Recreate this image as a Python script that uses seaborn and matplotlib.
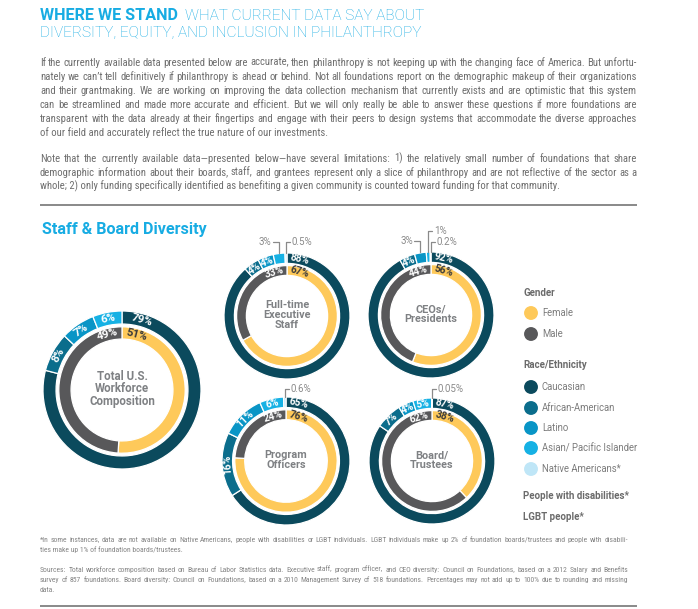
"""
Recria o infográfico "Where we stand" (diversidade em filantropia):
texto introdutório, cinco anéis de composição por raça/gênero e legenda.
"""
import matplotlib
matplotlib.use("Agg")
import matplotlib.pyplot as plt
import numpy as np
import pandas as pd
import seaborn as sns
from matplotlib import font_manager
from matplotlib.font_manager import FontProperties

W, H = 698, 609
PX = 100 / 72  # pixels por ponto (dpi = 100)

# --------------------------------------------------------------------------- #
# Dados / textos
# --------------------------------------------------------------------------- #
TITLE_BOLD = "WHERE WE STAND"
TITLE_REST = "WHAT CURRENT DATA SAY ABOUT"
TITLE_LINE2 = "DIVERSITY, EQUITY, AND INCLUSION IN PHILANTHROPY"
SECTION_TITLE = "Staff & Board Diversity"

PARA1 = [
    "If the currently available data presented below are accurate, then philanthropy is not keeping up with the changing face of America. But unfortu-",
    "nately we can’t tell definitively if philanthropy is ahead or behind. Not all foundations report on the demographic makeup of their organizations",
    "and their grantmaking. We are working on improving the data collection mechanism that currently exists and are optimistic that this system",
    "can be streamlined and made more accurate and efficient. But we will only really be able to answer these questions if more foundations are",
    "transparent with the data already at their fingertips and engage with their peers to design systems that accommodate the diverse approaches",
    "of our field and accurately reflect the true nature of our investments.",
]
PARA2 = [
    "Note that the currently available data—presented below—have several limitations: 1) the relatively small number of foundations that share",
    "demographic information about their boards, staff, and grantees represent only a slice of philanthropy and are not reflective of the sector as a",
    "whole; 2) only funding specifically identified as benefiting a given community is counted toward funding for that community.",
]
FOOTNOTE = [
    "*In some instances, data are not available on Native Americans, people with disabilities or LGBT individuals. LGBT individuals make up 2% of foundation boards/trustees and people with disabili-",
    "ties make up 1% of foundation boards/trustees.",
]
SOURCES = [
    "Sources: Total workforce composition based on Bureau of Labor Statistics data. Executive staff, program officer, and CEO diversity: Council on Foundations, based on a 2012 Salary and Benefits",
    "survey of 857 foundations. Board diversity: Council on Foundations, based on a 2010 Management Survey of 518 foundations. Percentages may not add up to 100% due to rounding and missing",
    "data.",
]

GROUPS = ["Total U.S.\nWorkforce\nComposition", "Full-time\nExecutive\nStaff",
          "CEOs/\nPresidents", "Program\nOfficers", "Board/\nTrustees"]
RACES = ["Caucasian", "African-American", "Latino", "Asian/ Pacific Islander", "Native Americans*"]
caucasian = [79, 88, 92, 65, 87]
african_american = [8, 4, 4, 16, 7]
latino = [7, 4, 3, 11, 4]
asian = [6, 3, 1, 6, 5]
native_american = [0, 0.5, 0.2, 0.6, 0.05]
GENDERS = ["Female", "Male"]
female = [51, 67, 56, 76, 38]
male = [49, 33, 44, 24, 62]
OTHER_GROUPS = ["People with disabilities*", "LGBT people*"]

# --------------------------------------------------------------------------- #
# Estilo e layout
# --------------------------------------------------------------------------- #
RACE_COLORS = ["#0b4a5d", "#0b6d8c", "#0995c6", "#16b1e4", "#bfe6f7"]
GENDER_COLORS = ["#fec95a", "#58585a"]
CYAN = "#17ace3"
GRAY = "#6e6e6e"
LEG_GRAY = "#7c7c7c"
HEAD_GRAY = "#6b6b6b"
CENTER_GRAY = "#7f8184"
BRACKET_GRAY = "#8a8a8a"

# (cx, cy, raio externo, fonte dos rótulos, fonte do centro, folga do 1º rótulo externo)
DONUT_LAYOUT = [
    (122, 390, 79, 8.2, 8.3, 9.5),
    (287, 316, 63, 7.4, 7.8, 3.0),
    (431, 315, 63, 7.4, 7.8, 3.0),
    (286, 461, 64, 7.4, 7.8, 3.0),
    (432, 461, 63, 7.4, 7.8, 3.0),
]
# (anel, grupo racial) -> (lado do rótulo, y do rótulo) para fatias muito finas
BRACKET_POS = {
    (1, 3): ("left", 242), (1, 4): ("right", 242),
    (2, 2): ("left", 241), (2, 3): ("right", 231), (2, 4): ("right", 242),
    (3, 4): ("right", 389),
    (4, 4): ("right", 389),
}
SMALL_SLICE = 3.5  # abaixo disso o rótulo vai para fora do anel

P1_Y = [62, 76, 90, 104, 118, 132]
P2_Y = [158, 172, 186]
FOOT_Y = [539, 549]
SRC_Y = [569, 579, 589]

LEG_DOT_X, LEG_TEXT_X, LEG_HEAD_X = 531, 542, 523
LEG_DOT_Y = [313, 334, 387, 408, 428, 448, 469]
LEG_HEAD_Y = {"Gender": 293, "Race/Ethnicity": 365,
              OTHER_GROUPS[0]: 496, OTHER_GROUPS[1]: 517}

sns.set_theme(style="white")
_names = {f.name for f in font_manager.fontManager.ttflist}


def pick(*cands):
    for c in cands:
        if c in _names:
            return c
    return "DejaVu Sans"


SANS = pick("Roboto", "Open Sans", "Lato", "Noto Sans")
BODY = pick("Liberation Sans Narrow", "Roboto Condensed", "Roboto", "Open Sans")
plt.rcParams["font.family"] = [SANS, "DejaVu Sans"]

fig = plt.figure(figsize=(W / 100, H / 100), dpi=100, facecolor="white")
ax = fig.add_axes([0, 0, 1, 1])
renderer = fig.canvas.get_renderer()


def text_width(s, size, family, weight="normal"):
    prop = FontProperties(family=family, size=size, weight=weight)
    w, _, _ = renderer.get_text_width_height_descent(s, prop, ismath=False)
    return w


def fit_size(s, width, family, weight="normal"):
    return 10 * width / text_width(s, 10, family, weight)


def put(x, y, s, size, family=SANS, weight="normal", color=GRAY, ha="left", **kw):
    # y é o centro visual da linha; converte para a linha de base
    return ax.text(x, y + 0.34 * size * PX, s, fontsize=size, family=family,
                   fontweight=weight, color=color, ha=ha, va="baseline", **kw)


def text_block(lines, ys, x0, x1, size, family, color, justified):
    for line, y, just in zip(lines, ys, justified):
        if not just:
            put(x0, y, line, size, family, color=color)
            continue
        words = line.split(" ")
        widths = [text_width(w_, size, family) for w_ in words]
        gap = (x1 - x0 - sum(widths)) / (len(words) - 1)
        x = x0
        for w_, ww in zip(words, widths):
            put(x, y, w_, size, family, color=color)
            x += ww + gap


# --------------------------------------------------------------------------- #
# Cabeçalho e texto
# --------------------------------------------------------------------------- #
title_bold_fs = fit_size(TITLE_BOLD, 138, SANS, "bold")
title_fs = fit_size(TITLE_LINE2, 383, SANS, "light")
put(40, 15, TITLE_BOLD, title_bold_fs, weight="bold", color=CYAN)
put(185, 15, TITLE_REST, title_fs, weight="light", color=CYAN)
put(40, 32, TITLE_LINE2, title_fs, weight="light", color=CYAN)

body_lines = PARA1[:-1] + PARA2[:-1]
body_fs = min(fit_size(l, 597, BODY) for l in body_lines) * 0.995
text_block(PARA1, P1_Y, 40, 637, body_fs, BODY, GRAY, [True] * 5 + [False])
text_block(PARA2, P2_Y, 40, 637, body_fs, BODY, GRAY, [True, True, False])

foot_fs = min(fit_size(l, 588, BODY) for l in [FOOTNOTE[0]] + SOURCES[:2]) * 0.99
text_block(FOOTNOTE, FOOT_Y, 40, 628, foot_fs, BODY, "#858585", [True, False])
text_block(SOURCES, SRC_Y, 40, 628, foot_fs, BODY, "#858585", [True, True, False])

ax.plot([40, 637], [205, 205], color="#808080", lw=1.3, solid_capstyle="butt")
ax.plot([40, 637], [606, 606], color="#808080", lw=1.3, solid_capstyle="butt")

put(42, 229, SECTION_TITLE, fit_size(SECTION_TITLE, 166, SANS, "bold"),
    weight="bold", color=CYAN)


# --------------------------------------------------------------------------- #
# Anéis
# --------------------------------------------------------------------------- #
def ring_text(cx, cy, r_mid, phi_deg, s, size, color):
    phi = np.radians(phi_deg)
    x, y = cx + r_mid * np.sin(phi), cy - r_mid * np.cos(phi)
    ax.text(x, y, s, rotation=-phi_deg, rotation_mode="anchor", ha="center",
            va="center", fontsize=size, fontweight="bold", color=color,
            family=SANS, zorder=5)


def ring_labels(i, values, cx, cy, r_mid, size, gender):
    fr = np.asarray(values, float) / np.sum(values)
    end = np.cumsum(fr)
    start = end - fr
    r = DONUT_LAYOUT[i][2]
    pad = 0.05 * r if gender else DONUT_LAYOUT[i][5]
    for k, v in enumerate(values):
        if v <= 0:
            continue
        lab = f"{v:g}%"
        txt_color = "#3b3b3b" if (gender and k == 0) else "white"
        w = text_width(lab, size, SANS, "bold")
        off = np.degrees((w / 2 + pad) / r_mid)
        if k == 0:
            ring_text(cx, cy, r_mid, start[k] * 360 + off, lab, size, txt_color)
        elif gender:
            ring_text(cx, cy, r_mid, end[k] * 360 - off, lab, size, txt_color)
        elif v >= SMALL_SLICE:
            ring_text(cx, cy, r_mid, (start[k] + end[k]) * 180, lab, size, txt_color)
        elif (i, k) in BRACKET_POS:
            side, ly = BRACKET_POS[(i, k)]
            phi = np.radians((start[k] + end[k]) * 180)
            bx, by = cx + (r + 0.5) * np.sin(phi), cy - (r + 0.5) * np.cos(phi)
            hx = bx - 6 if side == "left" else bx + 4
            ax.plot([bx, bx, hx], [by, ly, ly], color=BRACKET_GRAY, lw=0.9, zorder=4)
            tx = hx - 1.5 if side == "left" else hx + 1.5
            put(tx, ly, lab, 7.0, color=BRACKET_GRAY,
                ha="right" if side == "left" else "left")


for i, name in enumerate(GROUPS):
    cx, cy, r, fs_lab, fs_ctr, _ = DONUT_LAYOUT[i]
    race_vals = [caucasian[i], african_american[i], latino[i], asian[i], native_american[i]]
    keep = [k for k, v in enumerate(race_vals) if v > 0]
    ax.pie([race_vals[k] for k in keep], colors=[RACE_COLORS[k] for k in keep],
           radius=r, center=(cx, cy), startangle=-90, counterclock=True, frame=True,
           wedgeprops=dict(width=0.165 * r, edgecolor="white", linewidth=0.9))
    gender_vals = [female[i], male[i]]
    ax.pie(gender_vals, colors=GENDER_COLORS, radius=0.80 * r, center=(cx, cy),
           startangle=-90, counterclock=True, frame=True,
           wedgeprops=dict(width=0.155 * r, edgecolor="white", linewidth=0.9))
    ring_labels(i, race_vals, cx, cy, 0.9175 * r, fs_lab, gender=False)
    ring_labels(i, gender_vals, cx, cy, 0.7225 * r, fs_lab, gender=True)
    ax.text(cx, cy - 1, name, ha="center", va="center", fontsize=fs_ctr,
            fontweight="bold", color=CENTER_GRAY, family=SANS, linespacing=0.95,
            zorder=5)

# --------------------------------------------------------------------------- #
# Legenda
# --------------------------------------------------------------------------- #
leg_items = GENDERS + RACES
leg = pd.DataFrame({"grupo": leg_items, "y": LEG_DOT_Y, "x": LEG_DOT_X})
sns.scatterplot(data=leg, x="x", y="y", hue="grupo",
                palette=dict(zip(leg_items, GENDER_COLORS + RACE_COLORS)),
                s=100, edgecolor="none", legend=False, ax=ax, zorder=5)

leg_fs = fit_size("African-American", 74, SANS)
for item, y in zip(leg_items, LEG_DOT_Y):
    put(LEG_TEXT_X, y, item, leg_fs, color=LEG_GRAY)
head_fs = fit_size(OTHER_GROUPS[0], 107, SANS, "bold")
for head, y in LEG_HEAD_Y.items():
    put(LEG_HEAD_X, y, head, head_fs, weight="bold", color=HEAD_GRAY)

ax.set_xlim(0, W)
ax.set_ylim(H, 0)
ax.set_aspect("equal")
ax.axis("off")
fig.savefig("out.png", dpi=100, facecolor="white")
